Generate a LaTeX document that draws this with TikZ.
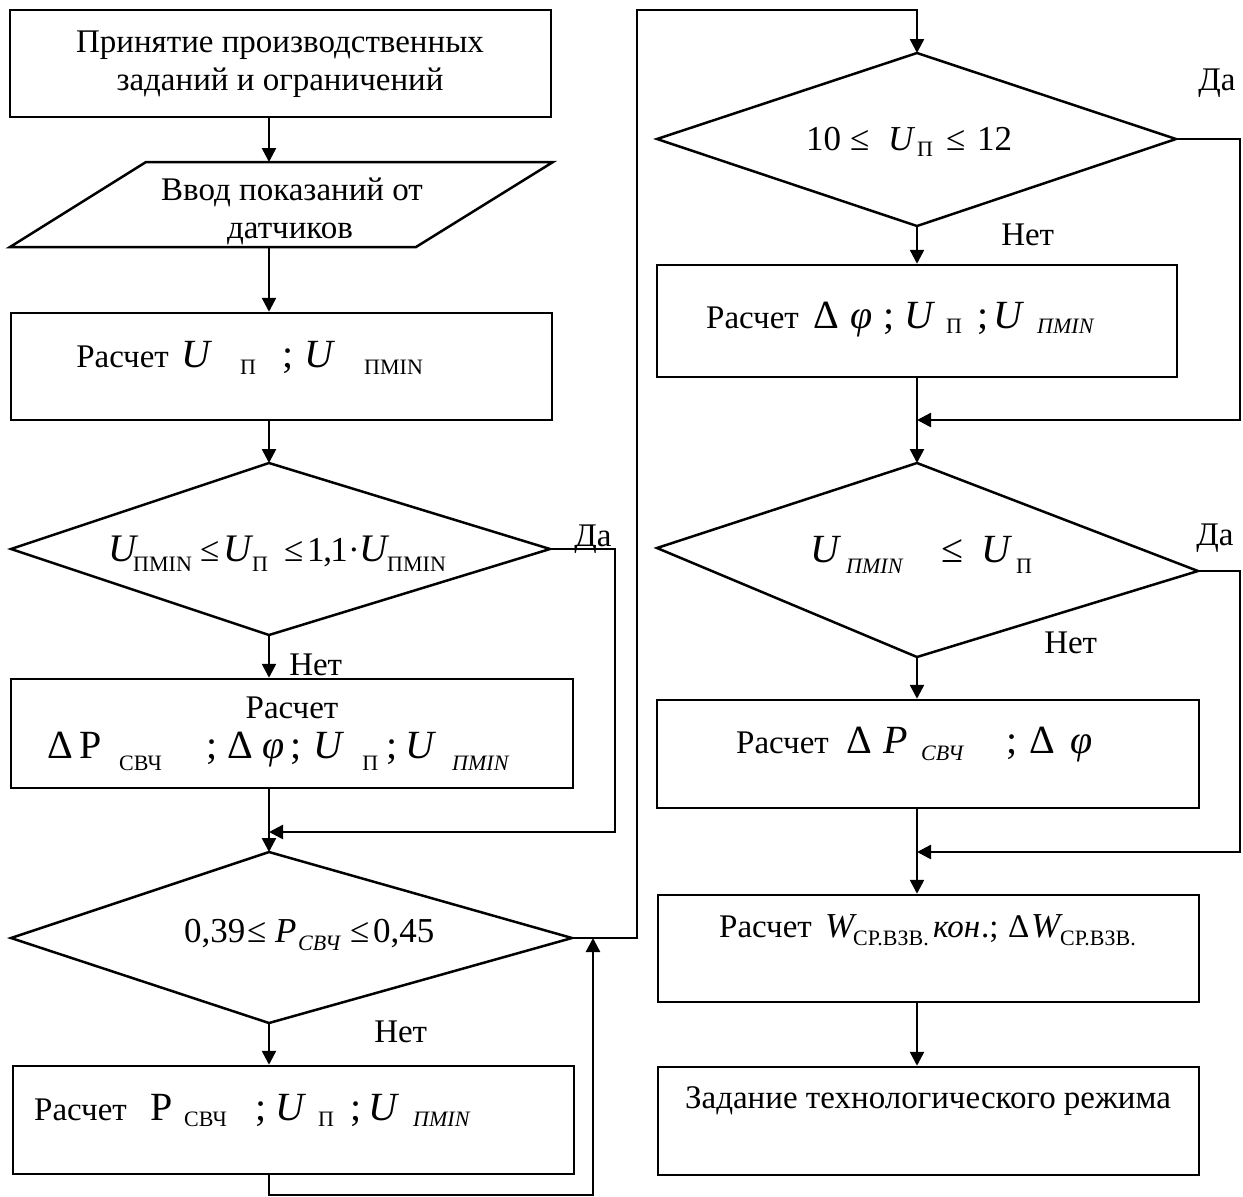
\documentclass[tikz,border=0pt]{standalone}
\usepackage{fontspec}
\setmainfont{Liberation Serif}
\usetikzlibrary{arrows.meta,fit}

% one drawing unit = 0.5pt; text pieces are placed at absolute x offsets
\newlength\pxu
\setlength\pxu{0.5pt}
\newcommand\At[2]{\rlap{\hspace*{#1\pxu}#2}}
\newcommand\Tx{\fontsize{16.5}{19}\selectfont}
\newcommand\Mx{\fontsize{20}{24}\selectfont}
\newcommand\Dx{\fontsize{17.5}{21}\selectfont}
\newcommand\Ux{\fontsize{19.5}{23}\selectfont}
\newcommand\Sx{\fontsize{11}{13}\selectfont}
\newcommand\Lo[2]{\raisebox{-#1\pxu}{\Sx #2}}

\begin{document}
\begin{tikzpicture}[x=0.5pt,y=-0.5pt,line width=1.25pt,
  box/.style={draw,rectangle,inner sep=0pt},
  arr/.style={-{Triangle[length=7pt,width=7pt]}},
  txt/.style={inner sep=0pt,font=\Tx}]
\useasboundingbox (0,0) rectangle (1243,1196);

% column axes
\coordinate (cL) at (269,0);
\coordinate (cR) at (917,0);

% ---- left column ----
\node[box,fit={(10,10) (551,117)}] (b1) {};
\coordinate (io-n) at (269,162);
\coordinate (io-s) at (269,247);
\draw (10,247) -- (146,162) -- (553,162) -- (416,247) -- cycle;
\node[box,fit={(11,313) (552,420)}] (b3) {};

\coordinate (d1-t) at (269,463);
\coordinate (d1-l) at (11,549);
\coordinate (d1-r) at (550,549);
\coordinate (d1-b) at (269,635);
\draw (d1-t) -- (d1-r) -- (d1-b) -- (d1-l) -- cycle;

\node[box,fit={(11,679) (573,788)}] (b4) {};

\coordinate (d2-t) at (269,852);
\coordinate (d2-l) at (11,938);
\coordinate (d2-r) at (572,938);
\coordinate (d2-b) at (269,1023);
\draw (d2-t) -- (d2-r) -- (d2-b) -- (d2-l) -- cycle;

\node[box,fit={(13,1066) (574,1174)}] (b5) {};

% ---- right column ----
\coordinate (d3-t) at (917,53);
\coordinate (d3-l) at (657,139);
\coordinate (d3-r) at (1176,139);
\coordinate (d3-b) at (917,226);
\draw (d3-t) -- (d3-r) -- (d3-b) -- (d3-l) -- cycle;

\node[box,fit={(657,265) (1177,377)}] (b6) {};

\coordinate (d4-t) at (917,463);
\coordinate (d4-l) at (657,548);
\coordinate (d4-r) at (1198,571);
\coordinate (d4-b) at (917,657);
\draw (d4-t) -- (d4-r) -- (d4-b) -- (d4-l) -- cycle;

\node[box,fit={(657,700) (1199,808)}] (b7) {};
\node[box,fit={(658,895) (1199,1002)}] (b8) {};
\node[box,fit={(658,1067) (1199,1175)}] (b9) {};

% ---- texts ----
\node[txt,anchor=base] (t1a) at (280,52) {Принятие производственных};
\node[txt,anchor=base] (t1b) at (280,90) {заданий и ограничений};
\node[txt,anchor=base] (t2a) at (292,200) {Ввод показаний от};
\node[txt,anchor=base] (t2b) at (290,238) {датчиков};
\node[txt,anchor=base west] (t3) at (0,367) {\At{74}{Расчет}\At{179}{\Mx\itshape U}\At{238}{\Lo{7}{П}}\At{280}{\Mx ;}\At{302}{\Mx\itshape U}\At{362}{\Lo{7}{ПMIN}}};
\node[txt,anchor=base west] (td1) at (0,561) {\At{106}{\Ux\itshape U}\At{131}{\Lo{10}{ПMIN}}\At{198}{\Dx ≤}\At{221}{\Ux\itshape U}\At{250}{\Lo{10}{П}}\At{282}{\Dx ≤}\At{305}{\Dx 1}\At{321}{\Dx ,}\At{328}{\Dx 1}\At{346}{\Dx ·}\At{357}{\Ux\itshape U}\At{385}{\Lo{10}{ПMIN}}};
\node[txt,anchor=base west] (y1) at (573,546) {Да};
\node[txt,anchor=base west] (n1) at (288,675) {Нет};
\node[txt,anchor=base] (t4a) at (292,718) {Расчет};
\node[txt,anchor=base west] (t4b) at (0,758) {\At{45}{\Mx Δ}\At{77}{\Mx P}\At{117}{\Lo{12}{СВЧ}}\At{204}{\Mx ;}\At{225}{\Mx Δ}\At{260}{\Mx\itshape φ}\At{288}{\Mx ;}\At{311}{\Mx\itshape U}\At{360}{\Lo{12}{П}}\At{384}{\Mx ;}\At{403}{\Mx\itshape U}\At{450}{\Lo{12}{\itshape ПMIN}}};
\node[txt,anchor=base west] (td2) at (0,942) {\At{182}{\Dx 0,39}\At{245}{\Dx ≤}\At{273}{\Dx\itshape P}\At{296}{\Lo{8}{\itshape СВЧ}}\At{348}{\Dx ≤}\At{371}{\Dx 0,45}};
\node[txt,anchor=base west] (n2) at (373,1042) {Нет};
\node[txt,anchor=base west] (t5) at (0,1120) {\At{32}{Расчет}\At{148}{\Mx P}\At{182}{\Lo{6}{СВЧ}}\At{253}{\Mx ;}\At{273}{\Mx\itshape U}\At{316}{\Lo{6}{П}}\At{348}{\Mx ;}\At{366}{\Mx\itshape U}\At{411}{\Lo{6}{\itshape ПMIN}}};

\node[txt,anchor=base west] (td3) at (0,150) {\At{804}{\Dx 10}\At{848}{\Dx ≤}\At{886}{\Dx\itshape U}\At{915}{\Lo{6}{П}}\At{944}{\Dx ≤}\At{975}{\Dx 12}};
\node[txt,anchor=base west] (y3) at (1197,90) {Да};
\node[txt,anchor=base west] (n3) at (1000,245) {Нет};
\node[txt,anchor=base west] (t6) at (0,328) {\At{704}{Расчет}\At{811}{\Mx Δ}\At{848}{\Mx\itshape φ}\At{881}{\Mx ;}\At{902}{\Mx\itshape U}\At{944}{\Lo{5}{П}}\At{975}{\Mx ;}\At{991}{\Mx\itshape U}\At{1035}{\Lo{5}{\itshape ПMIN}}};
\node[txt,anchor=base west] (td4) at (0,562) {\At{808}{\Mx\itshape U}\At{844}{\Lo{11}{\itshape ПMIN}}\At{939}{\Mx ≤}\At{979}{\Mx\itshape U}\At{1014}{\Lo{11}{П}}};
\node[txt,anchor=base west] (y4) at (1195,545) {Да};
\node[txt,anchor=base west] (n4) at (1043,653) {Нет};
\node[txt,anchor=base west] (t7) at (0,753) {\At{734}{Расчет}\At{844}{\Mx Δ}\At{881}{\Mx\itshape P}\At{919}{\Lo{7}{\itshape СВЧ}}\At{1004}{\Mx ;}\At{1027}{\Mx Δ}\At{1068}{\Mx\itshape φ}};
\node[txt,anchor=base west] (t8) at (0,937) {\At{717}{Расчет}\At{823}{\Dx\itshape W}\At{851}{\Lo{8}{СР.ВЗВ.}}\At{931}{\itshape кон}\At{979}{.;}\At{1006}{Δ}\At{1029}{\Dx\itshape W}\At{1058}{\Lo{8}{СР.ВЗВ.}}};
\node[txt,anchor=base] (t9) at (928,1108) {Задание технологического режима};

% ---- connectors ----
\coordinate (r1) at (615,549);
\coordinate (m1) at (269,832);
\coordinate (r2) at (637,10);
\coordinate (top) at (917,10);
\coordinate (lp) at (593,1195);
\coordinate (r3) at (1240,139);
\coordinate (m3) at (917,420);
\coordinate (r4) at (1240,571);
\coordinate (m4) at (917,852);

\draw[arr] (b1.south -| cL) -- (io-n);
\draw[arr] (io-s) -- (b3.north -| cL);
\draw[arr] (b3.south -| cL) -- (d1-t);
\draw[arr] (d1-b) -- (b4.north -| cL);
\draw[arr] (b4.south -| cL) -- (d2-t);
\draw[arr] (d1-r) -- (r1) |- (m1);
\draw[arr] (d2-b) -- (b5.north -| cL);
\draw[arr] (b5.south -| cL) |- (lp) -- (lp |- d2-r);
\draw[arr] (d2-r) -| (r2) -- (top) -- (d3-t);

\draw[arr] (d3-b) -- (b6.north -| cR);
\draw[arr] (b6.south -| cR) -- (d4-t);
\draw[arr] (d3-r) -- (r3) |- (m3);
\draw[arr] (d4-b) -- (b7.north -| cR);
\draw[arr] (b7.south -| cR) -- (b8.north -| cR);
\draw[arr] (d4-r) -- (r4) |- (m4);
\draw[arr] (b8.south -| cR) -- (b9.north -| cR);
\end{tikzpicture}
\end{document}
